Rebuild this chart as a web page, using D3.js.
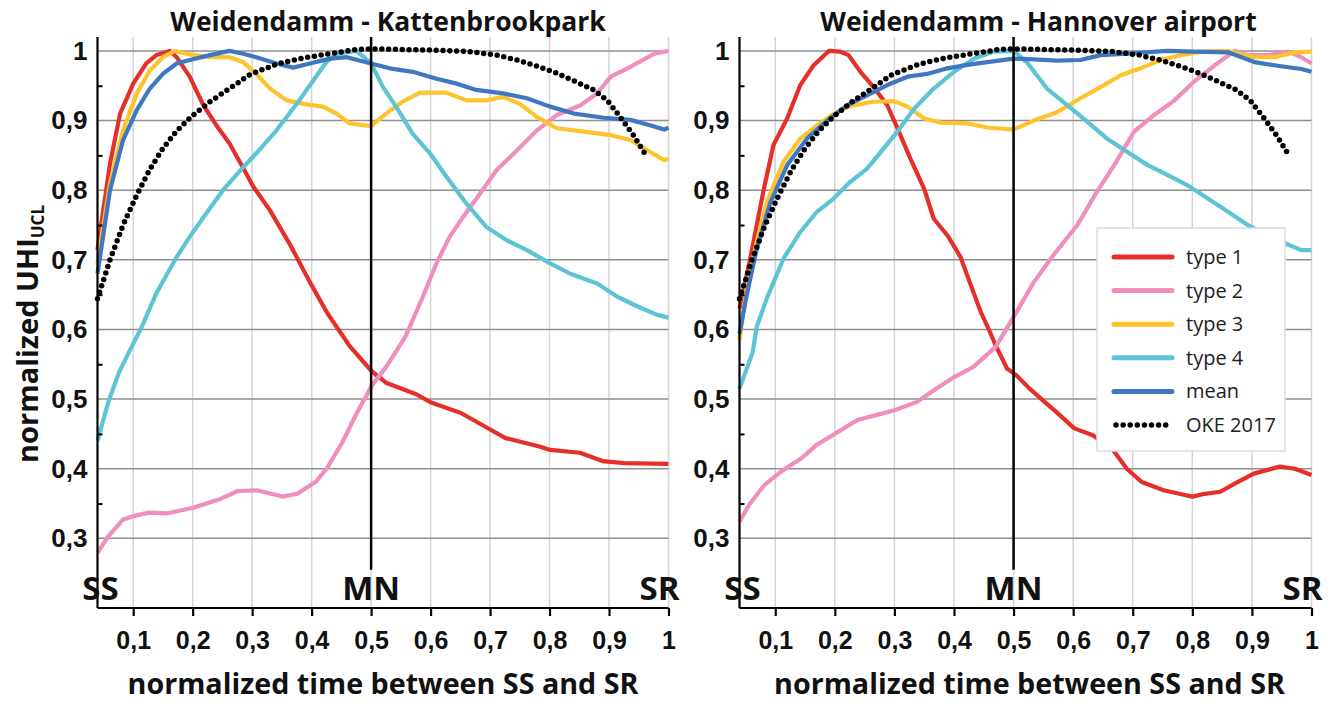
<!DOCTYPE html>
<html>
<head>
<meta charset="utf-8">
<script src="https://cdn.jsdelivr.net/npm/d3@7"></script>
<style>
  body { margin: 0; background: #fff; }
  svg { display: block; font-family: "Open Sans", sans-serif; }
  .tick text { font-weight: 700; }
</style>
</head>
<body>
<svg width="1340" height="707"></svg>
<script>
// ticks
const timeTicks = [0.1, 0.2, 0.3, 0.4, 0.5, 0.6, 0.7, 0.8, 0.9, 1];
const timeLabels = ['0,1', '0,2', '0,3', '0,4', '0,5', '0,6', '0,7', '0,8', '0,9', '1'];
const uhiTicks = [0.3, 0.4, 0.5, 0.6, 0.7, 0.8, 0.9, 1];
const uhiLabels = ['0,3', '0,4', '0,5', '0,6', '0,7', '0,8', '0,9', '1'];
const uhiMinor = [0.35, 0.45, 0.55, 0.65, 0.75, 0.85, 0.95];

const seriesNames = ['type 1', 'type 2', 'type 3', 'type 4', 'mean', 'OKE 2017'];
const seriesColors = ['#e5302a', '#f08fbe', '#fec42d', '#5cc4d5', '#3f78c1', '#000'];

// Weidendamm - Kattenbrookpark  ([normalized time, normalized UHI])
const kType1 = [[0.04,0.714],[0.061,0.838],[0.078,0.91],[0.1,0.953],[0.122,0.982],[0.139,0.994],[0.162,1.0],[0.173,0.991],[0.195,0.963],[0.218,0.922],[0.24,0.893],[0.262,0.867],[0.29,0.824],[0.302,0.805],[0.33,0.771],[0.363,0.723],[0.397,0.668],[0.426,0.624],[0.464,0.576],[0.501,0.54],[0.526,0.523],[0.576,0.507],[0.601,0.495],[0.651,0.48],[0.701,0.456],[0.726,0.444],[0.783,0.432],[0.801,0.427],[0.851,0.423],[0.889,0.411],[0.926,0.408],[1.0,0.407]];
const kType2 = [[0.04,0.279],[0.058,0.303],[0.083,0.327],[0.101,0.332],[0.126,0.337],[0.158,0.336],[0.201,0.344],[0.245,0.356],[0.276,0.368],[0.308,0.369],[0.351,0.36],[0.376,0.364],[0.408,0.382],[0.426,0.401],[0.451,0.437],[0.476,0.48],[0.501,0.519],[0.526,0.547],[0.558,0.59],[0.587,0.647],[0.61,0.695],[0.632,0.733],[0.655,0.762],[0.683,0.795],[0.711,0.829],[0.745,0.857],[0.779,0.886],[0.812,0.908],[0.852,0.922],[0.88,0.939],[0.903,0.963],[0.936,0.977],[0.976,0.996],[1.0,1.0]];
const kType3 = [[0.04,0.695],[0.061,0.81],[0.083,0.886],[0.106,0.939],[0.128,0.972],[0.15,0.991],[0.17,1.0],[0.195,0.995],[0.229,0.991],[0.262,0.991],[0.285,0.984],[0.307,0.967],[0.33,0.946],[0.358,0.929],[0.386,0.924],[0.419,0.92],[0.442,0.91],[0.464,0.896],[0.5,0.892],[0.525,0.91],[0.553,0.927],[0.582,0.94],[0.627,0.94],[0.66,0.929],[0.694,0.929],[0.722,0.934],[0.75,0.924],[0.779,0.905],[0.812,0.889],[0.858,0.884],[0.903,0.879],[0.936,0.872],[0.965,0.857],[0.993,0.843],[1.0,0.845]];
const kType4 = [[0.04,0.44],[0.058,0.495],[0.076,0.538],[0.095,0.571],[0.114,0.603],[0.139,0.652],[0.173,0.704],[0.195,0.733],[0.223,0.767],[0.251,0.8],[0.285,0.833],[0.307,0.853],[0.341,0.886],[0.375,0.924],[0.403,0.958],[0.425,0.984],[0.442,0.996],[0.475,1.0],[0.5,0.982],[0.52,0.948],[0.542,0.92],[0.57,0.881],[0.599,0.853],[0.627,0.819],[0.66,0.781],[0.694,0.747],[0.728,0.728],[0.762,0.714],[0.801,0.695],[0.835,0.68],[0.88,0.666],[0.914,0.647],[0.948,0.633],[0.981,0.621],[1.0,0.617]];
const kMean = [[0.04,0.68],[0.061,0.8],[0.083,0.872],[0.106,0.915],[0.128,0.946],[0.15,0.967],[0.173,0.982],[0.195,0.987],[0.229,0.994],[0.262,1.0],[0.285,0.996],[0.307,0.991],[0.341,0.982],[0.369,0.976],[0.397,0.982],[0.431,0.989],[0.459,0.991],[0.5,0.982],[0.531,0.975],[0.57,0.97],[0.61,0.96],[0.644,0.953],[0.677,0.944],[0.722,0.939],[0.762,0.932],[0.801,0.92],[0.841,0.91],[0.891,0.904],[0.936,0.901],[0.97,0.893],[0.993,0.887],[1.0,0.89]];

// Weidendamm - Hannover airport
const hType1 = [[0.04,0.63],[0.058,0.702],[0.08,0.798],[0.097,0.865],[0.12,0.903],[0.142,0.951],[0.164,0.979],[0.19,1.0],[0.209,0.999],[0.223,0.994],[0.243,0.97],[0.265,0.948],[0.288,0.922],[0.305,0.889],[0.327,0.845],[0.35,0.802],[0.366,0.759],[0.389,0.735],[0.411,0.704],[0.428,0.664],[0.445,0.625],[0.458,0.601],[0.47,0.577],[0.489,0.544],[0.505,0.534],[0.527,0.515],[0.552,0.496],[0.571,0.482],[0.602,0.458],[0.633,0.448],[0.665,0.429],[0.69,0.4],[0.715,0.381],[0.752,0.369],[0.778,0.364],[0.8,0.36],[0.821,0.364],[0.847,0.367],[0.872,0.379],[0.903,0.393],[0.947,0.403],[0.972,0.4],[1.0,0.391]];
const hType2 = [[0.04,0.324],[0.056,0.348],[0.081,0.376],[0.113,0.398],[0.144,0.415],[0.169,0.434],[0.2,0.45],[0.238,0.47],[0.269,0.477],[0.3,0.484],[0.338,0.496],[0.37,0.515],[0.401,0.532],[0.432,0.546],[0.47,0.575],[0.5,0.618],[0.534,0.668],[0.567,0.707],[0.607,0.75],[0.64,0.798],[0.669,0.836],[0.702,0.884],[0.736,0.908],[0.77,0.929],[0.803,0.956],[0.837,0.979],[0.871,1.0],[0.893,0.994],[0.927,0.994],[0.961,0.999],[0.983,0.991],[1.0,0.982]];
const hType3 = [[0.04,0.585],[0.052,0.659],[0.069,0.726],[0.086,0.783],[0.114,0.841],[0.142,0.874],[0.17,0.893],[0.198,0.91],[0.226,0.921],[0.265,0.927],[0.299,0.928],[0.322,0.92],[0.35,0.903],[0.378,0.897],[0.422,0.896],[0.456,0.89],[0.5,0.887],[0.534,0.9],[0.573,0.912],[0.612,0.932],[0.646,0.948],[0.68,0.965],[0.713,0.975],[0.747,0.987],[0.781,0.994],[0.815,0.999],[0.86,1.0],[0.904,0.991],[0.938,0.991],[0.972,0.998],[1.0,0.999]];
const hType4 = [[0.04,0.515],[0.062,0.567],[0.069,0.604],[0.086,0.645],[0.114,0.702],[0.142,0.74],[0.17,0.769],[0.198,0.788],[0.226,0.812],[0.254,0.831],[0.282,0.86],[0.305,0.884],[0.333,0.917],[0.366,0.946],[0.4,0.97],[0.434,0.989],[0.467,0.999],[0.5,1.0],[0.522,0.984],[0.556,0.946],[0.59,0.922],[0.624,0.898],[0.657,0.874],[0.691,0.855],[0.725,0.836],[0.758,0.822],[0.792,0.807],[0.826,0.788],[0.86,0.769],[0.893,0.75],[0.949,0.726],[0.983,0.714],[1.0,0.714]];
const hMean = [[0.04,0.594],[0.052,0.649],[0.069,0.716],[0.092,0.783],[0.12,0.836],[0.153,0.874],[0.187,0.9],[0.221,0.922],[0.254,0.936],[0.288,0.951],[0.322,0.963],[0.355,0.967],[0.389,0.975],[0.422,0.98],[0.456,0.984],[0.5,0.989],[0.534,0.988],[0.573,0.986],[0.612,0.987],[0.646,0.994],[0.691,0.996],[0.758,1.0],[0.803,0.999],[0.86,0.998],[0.904,0.984],[0.949,0.978],[0.983,0.974],[1.0,0.97]];

// OKE 2017 model curve (same in both panels)
const oke2017 = [[0.04,0.644],[0.061,0.7],[0.083,0.75],[0.106,0.793],[0.128,0.83],[0.15,0.86],[0.173,0.885],[0.198,0.906],[0.229,0.927],[0.262,0.946],[0.296,0.966],[0.341,0.981],[0.386,0.99],[0.431,0.996],[0.475,1.002],[0.5,1.003],[0.61,1.001],[0.666,0.999],[0.711,0.994],[0.745,0.987],[0.779,0.978],[0.812,0.968],[0.846,0.955],[0.874,0.944],[0.897,0.929],[0.919,0.905],[0.942,0.878],[0.962,0.85]];

const panels = [
  { title: 'Weidendamm - Kattenbrookpark', left: 97.5, right: 668.5, titleShift: 5, xTitleShift: 0,
    series: [kType1, kType2, kType3, kType4, kMean, oke2017], yTitle: true, legend: false },
  { title: 'Weidendamm - Hannover airport', left: 739.5, right: 1311.5, titleShift: 13, xTitleShift: 4,
    series: [hType1, hType2, hType3, hType4, hMean, oke2017], yTitle: false, legend: true }
];

const svg = d3.select('svg');
const plotTop = 37, plotBottom = 608;
const y = d3.scaleLinear().domain([0.2, 1.02]).range([plotBottom, plotTop]);

panels.forEach(p => {
  const x = d3.scaleLinear().domain([0.04, 1]).range([p.left, p.right]);
  const g = svg.append('g');

  // vertical grid
  g.selectAll('.vgrid').data(timeTicks).enter().append('line')
    .attr('x1', d => x(d)).attr('x2', d => x(d))
    .attr('y1', plotTop).attr('y2', plotBottom)
    .attr('stroke', '#d4d4d4').attr('stroke-width', 1.5);

  // horizontal grid
  g.selectAll('.hgrid').data(uhiTicks).enter().append('line')
    .attr('x1', p.left).attr('x2', p.right)
    .attr('y1', d => y(d)).attr('y2', d => y(d))
    .attr('stroke', '#8f8f8f').attr('stroke-width', 1.5);

  const line = d3.line().x(d => x(d[0])).y(d => y(d[1]));

  // coloured series
  p.series.slice(0, 5).forEach((s, i) => {
    g.append('path').datum(s)
      .attr('d', line)
      .attr('fill', 'none')
      .attr('stroke', seriesColors[i])
      .attr('stroke-width', 4.2)
      .attr('stroke-linejoin', 'round');
  });

  // midnight marker
  g.append('line')
    .attr('x1', x(0.5)).attr('x2', x(0.5))
    .attr('y1', y(1.02)).attr('y2', y(0.255))
    .attr('stroke', '#000').attr('stroke-width', 2.5);

  // OKE 2017 dotted
  g.append('path').datum(p.series[5])
    .attr('d', line)
    .attr('fill', 'none')
    .attr('stroke', '#000')
    .attr('stroke-width', 5.5)
    .attr('stroke-linecap', 'round')
    .attr('stroke-dasharray', '0 6.8');

  // x axis
  const xAxis = g.append('g')
    .attr('transform', `translate(0,${plotBottom})`)
    .call(d3.axisBottom(x).tickValues(timeTicks).tickSize(8).tickPadding(15)
      .tickFormat((d, i) => timeLabels[i]));
  xAxis.select('.domain').attr('d', `M${p.left},0H${p.right}`).attr('stroke-width', 2.2);
  xAxis.selectAll('.tick line').attr('stroke-width', 2.2);
  xAxis.selectAll('.tick text').attr('font-size', 25).attr('fill', '#111');

  // y axis
  const yAxis = g.append('g')
    .attr('transform', `translate(${p.left},0)`)
    .call(d3.axisLeft(y).tickValues(uhiTicks).tickSize(0).tickPadding(10)
      .tickFormat((d, i) => uhiLabels[i]));
  yAxis.select('.domain').attr('d', `M0,${plotTop}V${plotBottom}`).attr('stroke-width', 2.2);
  yAxis.selectAll('.tick text').attr('font-size', 26).attr('fill', '#111');

  g.append('g')
    .attr('transform', `translate(${p.left},0)`)
    .call(d3.axisRight(y).tickValues(uhiMinor).tickSize(5).tickFormat(''))
    .call(a => a.select('.domain').remove())
    .selectAll('line').attr('stroke-width', 2);

  // SS / MN / SR
  const marks = [['SS', x(0.04) + 3], ['MN', x(0.5)], ['SR', x(1) - 9]];
  g.selectAll('.mark').data(marks).enter().append('text')
    .attr('x', d => d[1]).attr('y', 600)
    .attr('text-anchor', 'middle')
    .attr('font-size', 33).attr('font-weight', 700).attr('fill', '#111')
    .text(d => d[0]);

  // titles
  g.append('text')
    .attr('x', (p.left + p.right) / 2 + p.titleShift).attr('y', 31)
    .attr('text-anchor', 'middle')
    .attr('font-size', 26.5).attr('font-weight', 700).attr('fill', '#111')
    .text(p.title);

  g.append('text')
    .attr('x', (p.left + p.right) / 2 + p.xTitleShift).attr('y', 694)
    .attr('text-anchor', 'middle')
    .attr('font-size', 28.7).attr('font-weight', 700).attr('fill', '#111')
    .text('normalized time between SS and SR');

  if (p.yTitle) {
    const t = g.append('text')
      .attr('transform', 'translate(38,334) rotate(-90)')
      .attr('text-anchor', 'middle')
      .attr('font-size', 29).attr('font-weight', 700).attr('fill', '#111');
    t.append('tspan').text('normalized UHI');
    t.append('tspan').attr('font-size', 17).attr('dy', 6).text('UCL');
  }

  if (p.legend) {
    const lg = g.append('g');
    lg.append('rect')
      .attr('x', 1097).attr('y', 228).attr('width', 188).attr('height', 223)
      .attr('fill', '#fff').attr('stroke', '#dcdcdc').attr('stroke-width', 1.5);
    const item = lg.selectAll('.item').data(seriesNames).enter().append('g')
      .attr('transform', (d, i) => `translate(0,${257 + i * 33.6})`);
    item.append('line')
      .attr('x1', (d, i) => i === 5 ? 1116 : 1114).attr('x2', (d, i) => i === 5 ? 1166 : 1172)
      .attr('stroke', (d, i) => seriesColors[i])
      .attr('stroke-width', (d, i) => i === 5 ? 5.5 : 5)
      .attr('stroke-linecap', 'round')
      .attr('stroke-dasharray', (d, i) => i === 5 ? '0 7.1' : null);
    item.append('text')
      .attr('x', 1186).attr('dy', '0.35em')
      .attr('font-size', 20).attr('fill', '#222')
      .text(d => d);
  }
});
</script>
</body>
</html>
